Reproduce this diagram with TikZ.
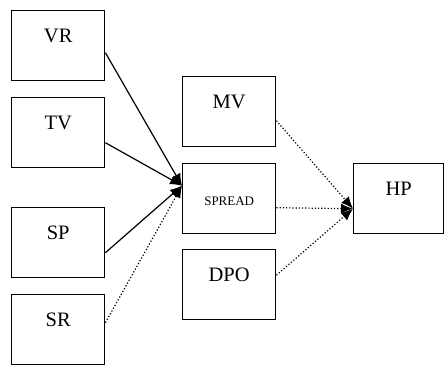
\documentclass[tikz,border=0pt]{standalone}
\usepackage{fontspec}
\setmainfont{Liberation Serif}
\usetikzlibrary{arrows.meta}
\begin{document}
\begin{tikzpicture}[x=1pt,y=-1pt,
  box/.style={draw, line width=1.4pt, minimum width=93pt, minimum height=70pt,
    inner sep=0pt, anchor=north west, font=\fontsize{20.5}{23}\selectfont,
    text height=32pt, text depth=38pt},
  smallbox/.style={box, font=\fontsize{13}{15}\selectfont, text height=42pt, text depth=28pt},
  conn/.style={line width=1.2pt, -{Latex[length=12pt,width=10pt]}},
  dotconn/.style={conn, dotted}]
\useasboundingbox (0,0) rectangle (444,364);
\node[box] (VR) at (11,10) {VR};
\node[box] (TV) at (11,97) {TV};
\node[box] (SP) at (11,207) {SP};
\node[box] (SR) at (11,294) {SR};
\node[box] (MV) at (182,76) {MV};
\node[smallbox] (SPREAD) at (182,163) {SPREAD};
\node[box] (DPO) at (182,249) {DPO};
\node[box, minimum width=90pt] (HP) at (353,163) {HP};
\draw[conn] ([yshift=-7pt]VR.east) -- ([yshift=13pt]SPREAD.west);
\draw[conn] ([yshift=-10pt]TV.east) -- ([yshift=13pt]SPREAD.west);
\draw[conn] ([yshift=-10pt]SP.east) -- ([yshift=13pt]SPREAD.west);
\draw[dotconn] ([yshift=7pt]SR.east) -- ([yshift=13pt]SPREAD.west);
\draw[dotconn] ([yshift=-9pt]MV.east) -- ([yshift=-10pt]HP.west);
\draw[dotconn] ([yshift=-9pt]SPREAD.east) -- ([yshift=-10pt]HP.west);
\draw[dotconn] ([yshift=9.5pt]DPO.east) -- ([yshift=-10pt]HP.west);
\end{tikzpicture}
\end{document}
